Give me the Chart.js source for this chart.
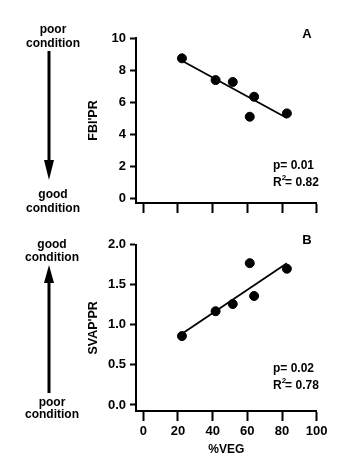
<!DOCTYPE html>
<html>
<head>
<meta charset="utf-8">
<script src="https://cdn.jsdelivr.net/npm/chart.js@4/dist/chart.umd.min.js"></script>
<style>
  body { margin: 0; background: #fff; }
  #wrap { position: relative; width: 356px; height: 461px; }
  canvas { position: absolute; left: 0; }
  #chartA { top: 0; }
  #chartB { top: 230px; }
</style>
</head>
<body>
<div id="wrap">
  <canvas id="chartA" width="356" height="230"></canvas>
  <canvas id="chartB" width="356" height="231"></canvas>
</div>
<script>
// %VEG for each site (x), shared by both panels
const vegPct = [22.3, 41.7, 51.6, 61.4, 63.9, 82.8];
// panel A: FBI'PR
const fbiPR = [8.73, 7.37, 7.25, 5.08, 6.33, 5.29];
// panel B: SVAP'PR
const svapPR = [0.86, 1.17, 1.26, 1.77, 1.36, 1.70];
// regression line ends
const fitX = [22.3, 82.8];
const fitA = [8.58, 5.0];
const fitB = [0.89, 1.77];
const xTicks = [0, 20, 40, 60, 80, 100];

const FONT = '"Liberation Sans", Arial, sans-serif';
Chart.defaults.font.family = FONT;
Chart.defaults.font.weight = 'bold';
Chart.defaults.font.size = 12;
Chart.defaults.color = '#000';

// draws the side notes: arrow, condition labels, panel letter and stats
const notesPlugin = {
  id: 'notes',
  afterDraw(chart, args, opts) {
    const ctx = chart.ctx;
    ctx.save();
    ctx.fillStyle = '#000';
    ctx.strokeStyle = '#000';
    ctx.font = 'bold 12px ' + FONT;
    ctx.textAlign = 'center';
    ctx.textBaseline = 'middle';
    opts.texts.forEach(t => ctx.fillText(t[0], t[1], t[2]));

    // arrow
    const a = opts.arrow;
    ctx.lineWidth = 3;
    ctx.beginPath();
    ctx.moveTo(a.x, a.from);
    ctx.lineTo(a.x, a.base);
    ctx.stroke();
    ctx.beginPath();
    ctx.moveTo(a.x - 5, a.base);
    ctx.lineTo(a.x + 5, a.base);
    ctx.lineTo(a.x, a.tip);
    ctx.closePath();
    ctx.fill();

    // panel letter
    ctx.font = 'bold 13px ' + FONT;
    ctx.fillText(opts.letter[0], opts.letter[1], opts.letter[2]);

    // stats
    ctx.textAlign = 'left';
    ctx.font = 'bold 12px ' + FONT;
    const sx = opts.stats.x;
    ctx.fillText(opts.stats.p, sx, opts.stats.y);
    const ry = opts.stats.y + 17;
    ctx.fillText('R', sx, ry);
    const wR = ctx.measureText('R').width;
    ctx.font = 'bold 8px ' + FONT;
    ctx.fillText('2', sx + wR, ry - 5);
    const w2 = ctx.measureText('2').width;
    ctx.font = 'bold 12px ' + FONT;
    ctx.fillText(opts.stats.r2, sx + wR + w2 - 1, ry);
    ctx.restore();
  }
};

function fixY(width) {
  return function (scale) {
    scale.width = width;
    scale.paddingTop = 0; scale.paddingBottom = 0;
    scale.paddingLeft = 0; scale.paddingRight = 0;
  };
}
function fixX(height) {
  return function (scale) {
    scale.height = height;
    scale.paddingTop = 0; scale.paddingBottom = 0;
    scale.paddingLeft = 0; scale.paddingRight = 0;
  };
}

function makePanel(id, yVals, fitVals, cfg) {
  const points = vegPct.map((x, i) => ({ x: x, y: yVals[i] }));
  const fitLine = fitX.map((x, i) => ({ x: x, y: fitVals[i] }));
  return new Chart(document.getElementById(id), {
    type: 'scatter',
    data: {
      datasets: [
        {
          data: points,
          backgroundColor: '#000',
          borderColor: '#000',
          pointRadius: 4.5,
          pointHoverRadius: 4.5
        },
        {
          data: fitLine,
          showLine: true,
          borderColor: '#000',
          borderWidth: 1.8,
          pointRadius: 0
        }
      ]
    },
    options: {
      responsive: false,
      animation: false,
      devicePixelRatio: 1,
      layout: { padding: cfg.padding },
      plugins: {
        legend: { display: false },
        tooltip: { enabled: false },
        notes: cfg.notes
      },
      scales: {
        x: {
          type: 'linear',
          min: -4.2,
          max: 100,
          afterFit: fixX(cfg.xHeight),
          afterBuildTicks: (scale) => {
            scale.ticks = xTicks.map(v => ({ value: v }));
          },
          border: { display: true, color: '#000', width: 2 },
          grid: { drawOnChartArea: false, drawTicks: true, tickLength: 10, tickColor: '#000', tickWidth: 2 },
          ticks: {
            padding: 3,
            maxRotation: 0,
            font: { size: 13 },
            color: cfg.showXLabels ? '#000' : 'rgba(0,0,0,0)'
          },
          title: {
            display: cfg.showXLabels,
            text: '%VEG',
            padding: { top: 4, bottom: 4 }
          }
        },
        y: {
          min: cfg.yMin,
          max: cfg.yMax,
          afterFit: fixY(53.6),
          afterBuildTicks: (scale) => {
            scale.ticks = cfg.yTicks.map(v => ({ value: v }));
          },
          border: { display: true, color: '#000', width: 2 },
          grid: { drawOnChartArea: false, drawTicks: true, tickLength: 6, tickColor: '#000', tickWidth: 2 },
          ticks: {
            padding: 4,
            font: { size: 13 },
            callback: (v) => cfg.yFmt(v)
          },
          title: {
            display: true,
            text: cfg.yTitle,
            font: { size: 12.5 },
            padding: { top: 4, bottom: 4 }
          }
        }
      }
    },
    plugins: [notesPlugin]
  });
}

makePanel('chartA', fbiPR, fitA, {
  padding: { left: 82.4, right: 39.3, top: 38, bottom: 15 },
  xHeight: 12,
  showXLabels: false,
  yMin: -0.31,
  yMax: 10,
  yTicks: [0, 2, 4, 6, 8, 10],
  yFmt: (v) => String(v),
  yTitle: "FBI'PR",
  notes: {
    texts: [['poor', 53, 30], ['condition', 53, 43.5], ['good', 53, 195], ['condition', 53, 209]],
    arrow: { x: 49, from: 51, base: 160, tip: 180 },
    letter: ['A', 307, 34],
    stats: { x: 273, y: 166, p: 'p= 0.01', r2: '= 0.82' }
  }
});

makePanel('chartB', svapPR, fitB, {
  padding: { left: 82.4, right: 39.3, top: 14.7, bottom: 0 },
  xHeight: 50,
  showXLabels: true,
  yMin: -0.075,
  yMax: 2.0,
  yTicks: [0, 0.5, 1.0, 1.5, 2.0],
  yFmt: (v) => v.toFixed(1),
  yTitle: "SVAP'PR",
  notes: {
    texts: [['good', 52, 14.7], ['condition', 52, 27.7], ['poor', 52, 172.7], ['condition', 52, 185]],
    arrow: { x: 49, from: 163, base: 53, tip: 35 },
    letter: ['B', 307, 10],
    stats: { x: 273, y: 139, p: 'p= 0.02', r2: '= 0.78' }
  }
});
</script>
</body>
</html>
